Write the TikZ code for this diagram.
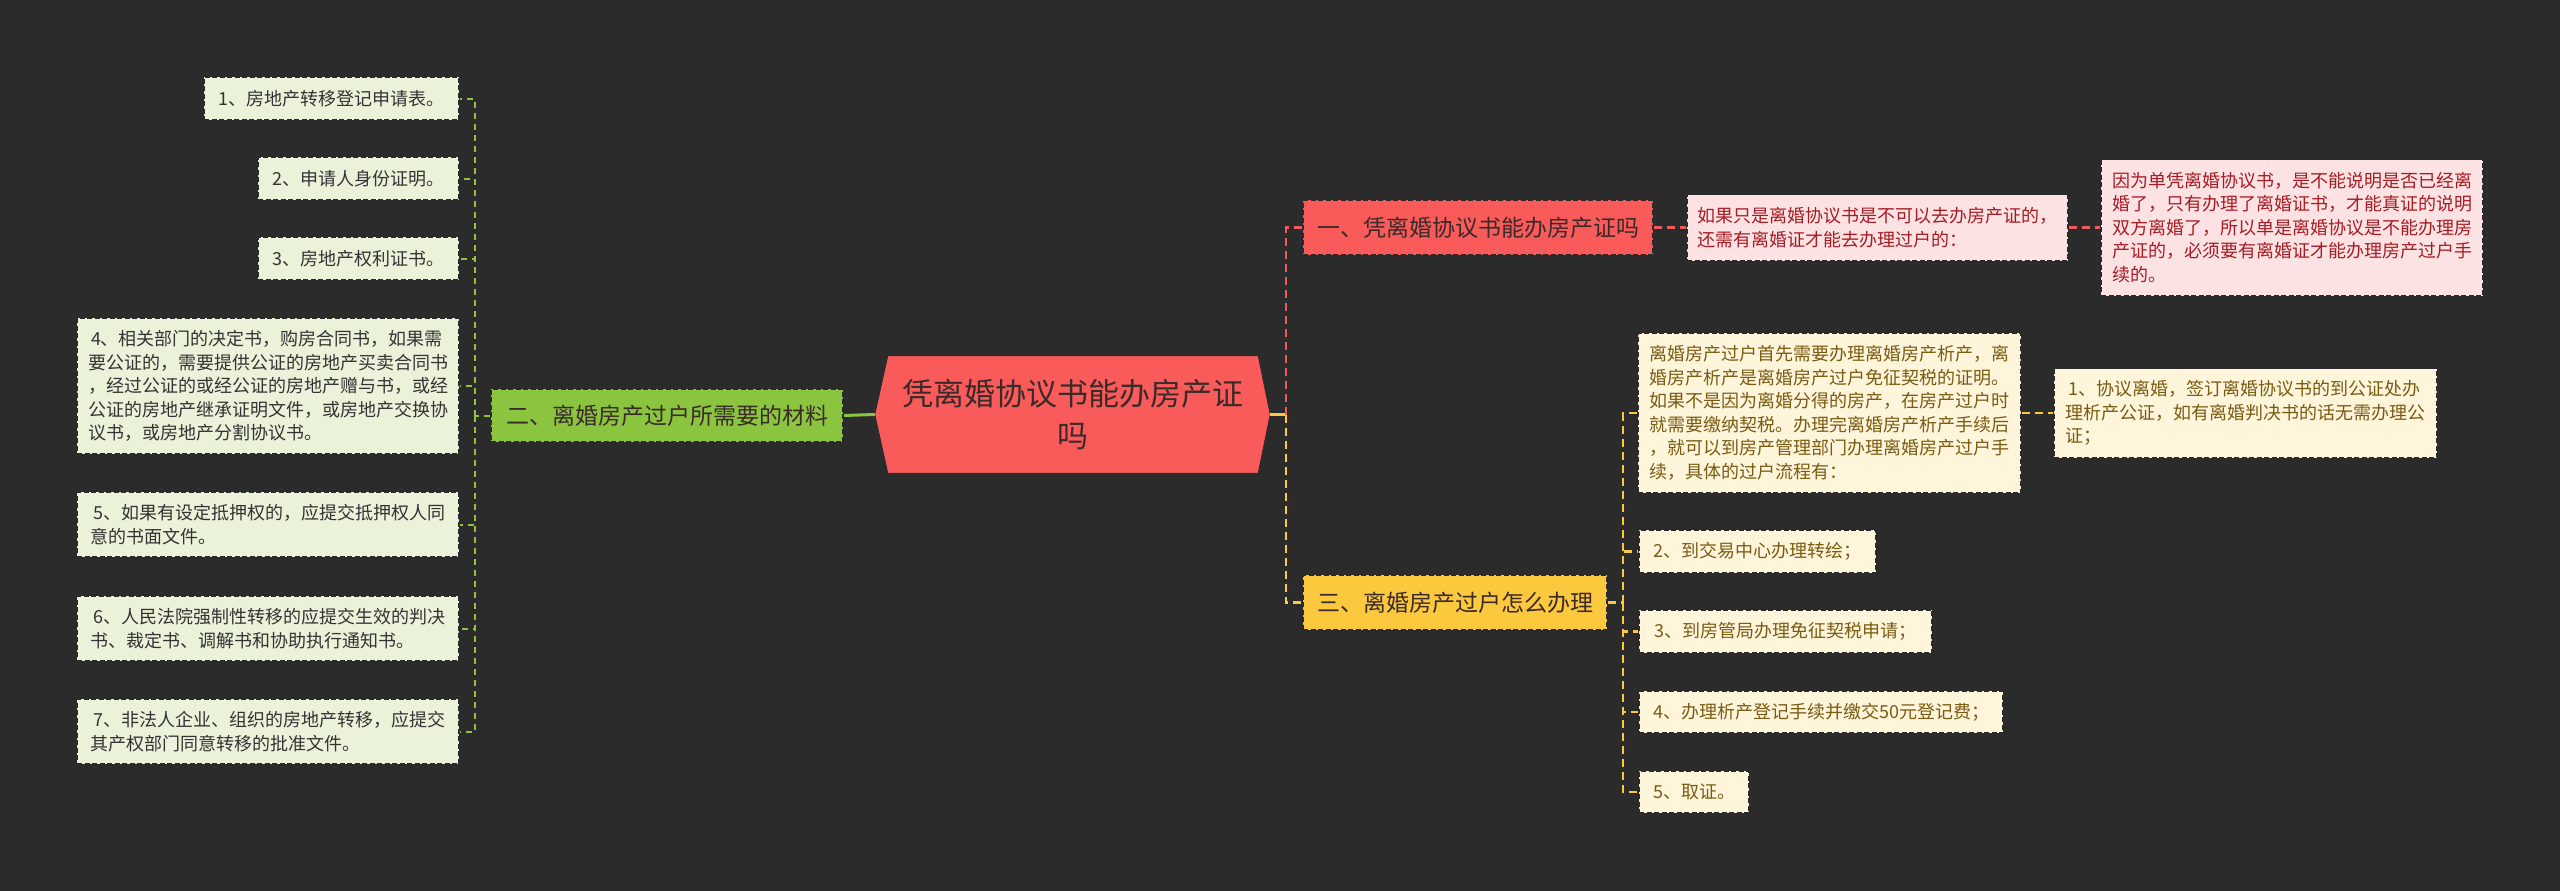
\documentclass[tikz,border=0pt]{standalone}
\usepackage{fontspec}
\newfontfamily\cjk{Noto Sans CJK SC}
\usetikzlibrary{backgrounds,calc}
\definecolor{bg}{HTML}{2B2B2B}
\definecolor{cred}{HTML}{F95A5A}
\definecolor{gbr}{HTML}{8BC53F}
\definecolor{ybr}{HTML}{FCC83D}
\definecolor{gleafc}{HTML}{EAF3DA}
\definecolor{pleafc}{HTML}{FDE2E3}
\definecolor{yleafc}{HTML}{FEF5DB}
\definecolor{gtext}{HTML}{333333}
\definecolor{ptext}{HTML}{A61C24}
\definecolor{ytext}{HTML}{7A5B12}
\definecolor{brtext}{HTML}{3A2A2A}
\definecolor{gline}{HTML}{95C23D}
\definecolor{rline}{HTML}{F05A5A}
\definecolor{yline}{HTML}{FCC83D}
\definecolor{bord}{HTML}{2A2A2A}
\tikzset{
  bx/.style 2 args={minimum width=#1pt, minimum height=#2pt},
  boxborder/.style={draw=bord, line width=1.3pt, dash pattern=on 5pt off 2.5pt, inner sep=0pt},
  leafbase/.style={boxborder, align=left, font=\cjk\fontsize{18}{23.5}\selectfont},
  gleaf/.style={leafbase, fill=gleafc, text=gtext},
  pleaf/.style={leafbase, fill=pleafc, text=ptext},
  yleaf/.style={leafbase, fill=yleafc, text=ytext},
  branch/.style={boxborder, text=brtext, font=\cjk\fontsize{23}{28}\selectfont},
  center/.style={inner sep=0pt, align=center, text=brtext, font=\cjk\fontsize{31}{42}\selectfont},
  gconn/.style={draw=gline, line width=2pt, dash pattern=on 6pt off 5pt},
  rconn/.style={draw=rline, line width=2.5pt, dash pattern=on 8pt off 5pt},
  yconn/.style={draw=yline, line width=2.5pt, dash pattern=on 8pt off 5pt},
  gsolid/.style={draw=gbr, line width=3pt},
  ysolid/.style={draw=yline, line width=3pt},
}
\begin{document}
\begin{tikzpicture}[x=1pt,y=-1pt]
\useasboundingbox (0,0) rectangle (2560,891);

% central
\node[center, bx={370}{117}] (c) at (1073,414.5) {凭离婚协议书能办房产证\\吗};
\coordinate (cW) at ([xshift=-13pt]c.west);
\coordinate (cE) at ([xshift=12pt]c.east);

% left branch
\node[branch, fill=gbr, bx={352}{53}] (G) at (667,415.5) {二、离婚房产过户所需要的材料};
\node[gleaf, bx={255}{43}] (L1) at (331.5,98.5) {1、房地产转移登记申请表。};
\node[gleaf, bx={201}{43}] (L2) at (358.5,178.5) {2、申请人身份证明。};
\node[gleaf, bx={201}{43}] (L3) at (358.5,258.5) {3、房地产权利证书。};
\node[gleaf, bx={382}{136}] (L4) at (268,386) {\hspace*{3pt}4、相关部门的决定书，购房合同书，如果需\\要公证的，需要提供公证的房地产买卖合同书\\，经过公证的或经公证的房地产赠与书，或经\\公证的房地产继承证明文件，或房地产交换协\\议书，或房地产分割协议书。};
\node[gleaf, bx={382}{65}] (L5) at (268,524.5) {\hspace*{3pt}5、如果有设定抵押权的，应提交抵押权人同\\意的书面文件。};
\node[gleaf, bx={382}{65}] (L6) at (268,628.5) {\hspace*{3pt}6、人民法院强制性转移的应提交生效的判决\\书、裁定书、调解书和协助执行通知书。};
\node[gleaf, bx={382}{65}] (L7) at (268,731.5) {\hspace*{3pt}7、非法人企业、组织的房地产转移，应提交\\其产权部门同意转移的批准文件。};
\coordinate (gv) at (475,415.5);

% right branch 1
\node[branch, fill=cred, bx={350}{55}] (B1) at (1478,227.5) {一、凭离婚协议书能办房产证吗};
\node[pleaf, bx={381}{66}] (P1) at (1877.5,227.5) {如果只是离婚协议书是不可以去办房产证的，\\还需有离婚证才能去办理过户的：};
\node[pleaf, bx={382}{136}] (P2) at (2292,227.5) {因为单凭离婚协议书，是不能说明是否已经离\\婚了，只有办理了离婚证书，才能真证的说明\\双方离婚了，所以单是离婚协议是不能办理房\\产证的，必须要有离婚证才能办理房产过户手\\续的。};

% right branch 3
\node[branch, fill=ybr, bx={304}{55}] (B3) at (1455,602.5) {三、离婚房产过户怎么办理};
\node[yleaf, bx={383}{160}] (Y1) at (1829.5,413) {离婚房产过户首先需要办理离婚房产析产，离\\婚房产析产是离婚房产过户免征契税的证明。\\如果不是因为离婚分得的房产，在房产过户时\\就需要缴纳契税。办理完离婚房产析产手续后\\，就可以到房产管理部门办理离婚房产过户手\\续，具体的过户流程有：};
\node[yleaf, bx={383}{89}] (Y1a) at (2245.5,413) {\hspace*{3pt}1、协议离婚，签订离婚协议书的到公证处办\\理析产公证，如有离婚判决书的话无需办理公\\证；};
\node[yleaf, bx={237}{43}] (Y2) at (1757.5,551.5) {2、到交易中心办理转绘；};
\node[yleaf, bx={293}{43}] (Y3) at (1785.5,631.5) {3、到房管局办理免征契税申请；};
\node[yleaf, bx={364}{42}] (Y4) at (1821,712) {4、办理析产登记手续并缴交50元登记费；};
\node[yleaf, bx={110}{42}] (Y5) at (1694,792) {5、取证。};
\coordinate (rv) at (1286,414.5);
\coordinate (yv) at (1623,602.5);

\begin{pgfonlayer}{background}
  \fill[bg] (0,0) rectangle (2560,891);
  \filldraw[fill=cred, draw=bord, line width=0.8pt] (c.north west) -- (c.north east) -- (cE) -- (c.south east) -- (c.south west) -- (cW) -- cycle;
  % left connectors
  \draw[gsolid] (cW) -- (G.east);
  \draw[gconn] (G.west) -- (gv);
  \foreach \n in {L1,L2,L3,L4,L5,L6,L7} \draw[gconn] (gv) |- (\n.east);
  % right connectors
  \draw[ysolid] (cE) -- (rv);
  \draw[rconn] (rv) |- (B1.west);
  \draw[yconn] (rv) |- (B3.west);
  \draw[rconn] (B1.east) -- (P1.west);
  \draw[rconn] (P1.east) -- (P2.west);
  \draw[yconn] (B3.east) -- (yv);
  \foreach \n in {Y1,Y2,Y3,Y4,Y5} \draw[yconn] (yv) |- (\n.west);
  \draw[yconn] (Y1.east) -- (Y1a.west);
\end{pgfonlayer}
\end{tikzpicture}
\end{document}
